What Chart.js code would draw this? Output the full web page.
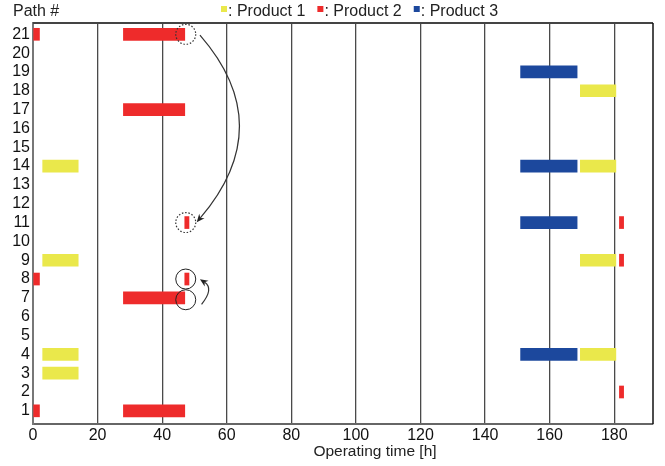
<!DOCTYPE html>
<html>
<head>
<meta charset="utf-8">
<script src="https://cdn.jsdelivr.net/npm/chart.js@4.4.1/dist/chart.umd.min.js"></script>
<style>
    html, body { margin: 0; padding: 0; background: #fff; }
</style>
</head>
<body>
<canvas id="ganttChart" width="665" height="466"></canvas>
<script>
// Path numbers (y axis) and time ticks (x axis)
const pathLabels = [1, 2, 3, 4, 5, 6, 7, 8, 9, 10, 11, 12, 13, 14, 15, 16, 17, 18, 19, 20, 21];
const timeTicks = [0, 20, 40, 60, 80, 100, 120, 140, 160, 180];

const productNames = ['Product 1', 'Product 2', 'Product 3'];
const productColors = ['#eae84b', '#ee2b2b', '#1c489d'];

// Jobs per product: [path, start h, end h]
const product1Jobs = [
    [14, 3, 14], [9, 3, 14], [4, 3, 14], [3, 3, 14],
    [18, 169.5, 180.5], [14, 169.5, 180.5], [9, 169.5, 180.5], [4, 169.5, 180.5]
];
const product2Jobs = [
    [21, 0, 2], [21, 28, 47], [17, 28, 47],
    [11, 47, 48.3], [11, 181.6, 182.9], [9, 181.6, 182.9],
    [8, 0, 2], [8, 47, 48.3], [7, 28, 47],
    [2, 181.6, 182.9], [1, 0, 2], [1, 28, 47]
];
const product3Jobs = [
    [19, 151, 168.5], [14, 151, 168.5], [11, 151, 168.5], [4, 151, 168.5]
];

// Transfer markers: circles around moved jobs and the arrows between them
const dottedCircles = [[47.3, 21], [47.3, 11]];
const solidCircles = [[47.3, 8], [47.3, 6.9]];
const transferArrows = [
    // start, control, end (data units)
    [[51.7, 20.96], [76.1, 16.15], [50.7, 11.02]],
    [[52.2, 6.66], [56.1, 7.49], [51.7, 7.99]]
];

const FONT = '"Liberation Sans", Arial, Helvetica, sans-serif';

function toBars(jobs) {
    return jobs.map(job => ({ y: job[0], x: [job[1], job[2]] }));
}

const frameAndText = {
    id: 'frameAndText',
    afterDraw(chart) {
        const ctx = chart.ctx;
        const area = chart.chartArea;
        ctx.save();

        // top and right frame lines
        ctx.strokeStyle = '#444';
        ctx.lineWidth = 2;
        ctx.beginPath();
        ctx.moveTo(area.left, area.top);
        ctx.lineTo(area.right, area.top);
        ctx.stroke();
        ctx.strokeStyle = '#111';
        ctx.lineWidth = 1.5;
        ctx.beginPath();
        ctx.moveTo(area.right, area.top);
        ctx.lineTo(area.right, area.bottom);
        ctx.stroke();

        ctx.fillStyle = '#222';
        ctx.font = '16px ' + FONT;
        ctx.textBaseline = 'alphabetic';
        ctx.textAlign = 'left';
        ctx.fillText('Path #', 13, 16);

        // legend
        let lx = 221;
        chart.data.datasets.forEach(ds => {
            ctx.fillStyle = ds.backgroundColor;
            ctx.fillRect(lx, 6, 6, 6);
            ctx.fillStyle = '#222';
            const text = ': ' + ds.label;
            ctx.fillText(text, lx + 7, 16);
            lx += 7 + ctx.measureText(text).width + 12;
        });

        // x axis title
        ctx.font = '15.5px ' + FONT;
        ctx.textAlign = 'center';
        ctx.fillText('Operating time [h]', 375, 456);
        ctx.restore();
    }
};

const transferMarks = {
    id: 'transferMarks',
    afterDatasetsDraw(chart) {
        const ctx = chart.ctx;
        const xs = chart.scales.x;
        const ys = chart.scales.y;
        const px = p => [xs.getPixelForValue(p[0]), ys.getPixelForValue(p[1])];
        ctx.save();

        ctx.strokeStyle = '#333';
        ctx.lineWidth = 1.2;
        ctx.setLineDash([1.5, 1.8]);
        dottedCircles.forEach(c => {
            const [cx, cy] = px(c);
            ctx.beginPath();
            ctx.arc(cx, cy, 10, 0, Math.PI * 2);
            ctx.stroke();
        });
        ctx.setLineDash([]);
        ctx.strokeStyle = '#222';
        ctx.lineWidth = 1;
        solidCircles.forEach(c => {
            const [cx, cy] = px(c);
            ctx.beginPath();
            ctx.arc(cx, cy, 10, 0, Math.PI * 2);
            ctx.stroke();
        });

        ctx.strokeStyle = '#333';
        ctx.fillStyle = '#222';
        ctx.lineWidth = 1.2;
        transferArrows.forEach(a => {
            const s = px(a[0]), c = px(a[1]), e = px(a[2]);
            const ang = Math.atan2(e[1] - c[1], e[0] - c[0]);
            const len = 8;
            const bx = e[0] - Math.cos(ang) * len * 0.7;
            const by = e[1] - Math.sin(ang) * len * 0.7;
            ctx.beginPath();
            ctx.moveTo(s[0], s[1]);
            ctx.quadraticCurveTo(c[0], c[1], bx, by);
            ctx.stroke();
            ctx.beginPath();
            ctx.moveTo(e[0], e[1]);
            ctx.lineTo(e[0] - Math.cos(ang) * len + Math.sin(ang) * 3.5,
                       e[1] - Math.sin(ang) * len - Math.cos(ang) * 3.5);
            ctx.lineTo(bx, by);
            ctx.lineTo(e[0] - Math.cos(ang) * len - Math.sin(ang) * 3.5,
                       e[1] - Math.sin(ang) * len + Math.cos(ang) * 3.5);
            ctx.closePath();
            ctx.fill();
        });
        ctx.restore();
    }
};

const allJobs = [product1Jobs, product2Jobs, product3Jobs];

new Chart(document.getElementById('ganttChart'), {
    type: 'bar',
    data: {
        datasets: allJobs.map((jobs, i) => ({
            label: productNames[i],
            data: toBars(jobs),
            backgroundColor: productColors[i],
            borderWidth: 0,
            barThickness: 12,
            grouped: false
        }))
    },
    options: {
        indexAxis: 'y',
        responsive: false,
        animation: false,
        layout: { padding: { top: 23, right: 12, left: 0, bottom: 0 } },
        plugins: {
            legend: { display: false },
            tooltip: { enabled: false }
        },
        scales: {
            x: {
                type: 'linear',
                min: 0,
                max: 192,
                offset: false,
                afterBuildTicks: scale => {
                    scale.ticks = timeTicks.map(v => ({ value: v }));
                },
                afterFit: scale => { scale.height = 42; },
                grid: { color: '#4a4a4a', lineWidth: 1.3, drawTicks: false },
                border: { color: '#666', width: 2 },
                ticks: {
                    padding: 2,
                    color: '#111',
                    autoSkip: false,
                    font: { size: 16, family: FONT },
                    maxRotation: 0
                }
            },
            y: {
                type: 'linear',
                min: 0.3,
                max: 21.6,
                offset: false,
                afterBuildTicks: scale => {
                    scale.ticks = pathLabels.map(v => ({ value: v }));
                },
                afterFit: scale => { scale.width = 33; },
                grid: { display: false, drawTicks: false },
                border: { color: '#777', width: 2 },
                ticks: {
                    padding: 3,
                    color: '#111',
                    autoSkip: false,
                    font: { size: 16, family: FONT }
                }
            }
        }
    },
    plugins: [transferMarks, frameAndText]
});
</script>
</body>
</html>
